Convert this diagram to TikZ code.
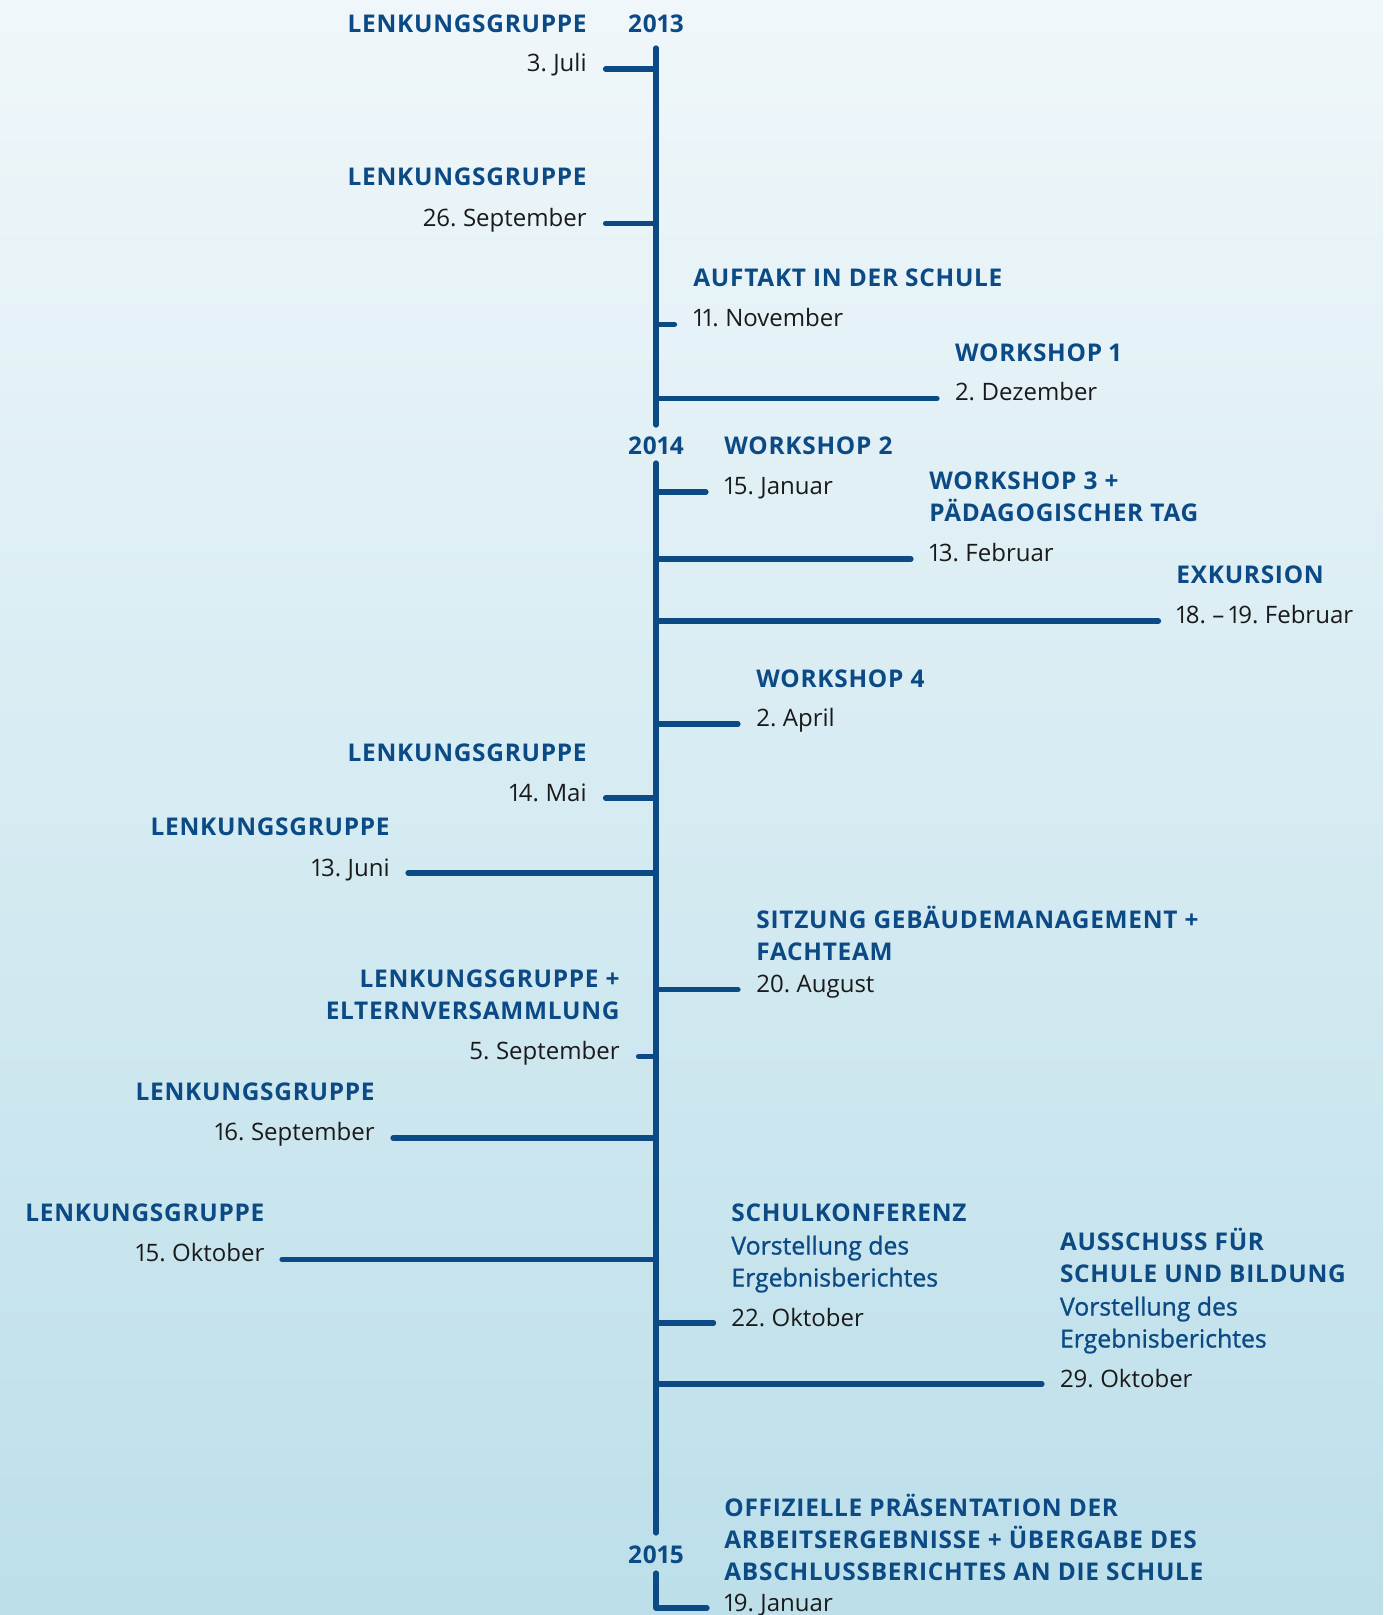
\documentclass[tikz,border=0pt]{standalone}
\usepackage{fontspec}
\setmainfont{Open Sans}[Numbers=Proportional]
\newfontfamily\hdfont{Open Sans}[Numbers=Proportional, LetterSpace=3, BoldFont={Open Sans Bold}]
\newfontfamily\datefont{Open Sans}[Numbers=Proportional, WordSpace=0.7]
\newfontfamily\semifont{Open Sans}[Numbers=Proportional, FakeBold=1.0]
\definecolor{tblue}{HTML}{0B4A85}
\definecolor{ttext}{HTML}{1A1A1A}
\definecolor{bgtop}{HTML}{F0F7FA}
\definecolor{bgbot}{HTML}{BCDFEA}
\begin{document}
\begin{tikzpicture}[x=0.5pt,y=-0.5pt,
  hd/.style={font=\hdfont\bfseries\fontsize{12.2}{16}\selectfont, text=tblue, inner sep=0pt},
  dt/.style={font=\datefont\fontsize{12}{16}\selectfont, text=ttext, inner sep=0pt},
  sb/.style={font=\semifont\fontsize{12.4}{16}\selectfont, text=tblue, inner sep=0pt},
  tl/.style={draw=tblue, line width=2.6pt, line cap=round},
  ae/.style={anchor=base east}, aw/.style={anchor=base west}, ac/.style={anchor=base}]
\shade[top color=bgtop, bottom color=bgbot] (0,0) rectangle (1383,1615);
\useasboundingbox (0,0) rectangle (1383,1615);
% main line
\coordinate (t0) at (656,48);
\coordinate (t1) at (656,425);
\coordinate (u0) at (656,463);
\coordinate (u1) at (656,1533);
\coordinate (v0) at (656,1573);
\coordinate (v1) at (656,1608);
\coordinate (v2) at (707,1608);
\draw[tl] (t0) -- (t1);
\draw[tl] (u0) -- (u1);
\draw[tl, line join=round] (v0) -- (v1) -- (v2);
% years
\node[hd,ac] (y13) at (656,32.2) {2013};
\node[hd,ac] (y14) at (656,454.5) {2014};
\node[hd,ac] (y15) at (656,1563.5) {2015};
% 3. Juli
\node[hd,ae] (h1) at (587,32.2) {LENKUNGSGRUPPE};
\node[dt,ae] (d1) at (587,71.3) {3. Juli};
\coordinate (j1) at (656,69); \coordinate (k1) at (605.5,69);
\draw[tl] (j1) -- (k1);
% 26. September
\node[hd,ae] (h2) at (587,185.5) {LENKUNGSGRUPPE};
\node[dt,ae] (d2) at (587,226.5) {26. September};
\coordinate (j2) at (656,223.5); \coordinate (k2) at (605.5,223.5);
\draw[tl] (j2) -- (k2);
% 11. November
\node[hd,aw] (h3) at (693,286.5) {AUFTAKT IN DER SCHULE};
\node[dt,aw] (d3) at (693,326.5) {11. November};
\coordinate (j3) at (656,324.4); \coordinate (k3) at (674.5,324.4);
\draw[tl] (j3) -- (k3);
% 2. Dezember
\node[hd,aw] (h4) at (954.6,361.5) {WORKSHOP 1};
\node[dt,aw] (d4) at (954.6,400.5) {2. Dezember};
\coordinate (j4) at (656,398.5); \coordinate (k4) at (937,398.5);
\draw[tl] (j4) -- (k4);
% 15. Januar
\node[hd,aw] (h5) at (724,454.5) {WORKSHOP 2};
\node[dt,aw] (d5) at (724,494.5) {15. Januar};
\coordinate (j5) at (656,492); \coordinate (k5) at (706,492);
\draw[tl] (j5) -- (k5);
% 13. Februar
\node[hd,aw] (h6a) at (929,489.5) {WORKSHOP 3 +};
\node[hd,aw] (h6b) at (929,521.5) {PÄDAGOGISCHER TAG};
\node[dt,aw] (d6) at (929,561.5) {13. Februar};
\coordinate (j6) at (656,559); \coordinate (k6) at (911,559);
\draw[tl] (j6) -- (k6);
% Exkursion
\node[hd,aw] (h7) at (1176,583) {EXKURSION};
\node[dt,aw] (d7) at (1176,623.5) {18. – 19. Februar};
\coordinate (j7) at (656,621); \coordinate (k7) at (1158.5,621);
\draw[tl] (j7) -- (k7);
% 2. April
\node[hd,aw] (h8) at (756,687) {WORKSHOP 4};
\node[dt,aw] (d8) at (756,726.5) {2. April};
\coordinate (j8) at (656,724); \coordinate (k8) at (738,724);
\draw[tl] (j8) -- (k8);
% 14. Mai
\node[hd,ae] (h9) at (587,761.5) {LENKUNGSGRUPPE};
\node[dt,ae] (d9) at (587,801.5) {14. Mai};
\coordinate (j9) at (656,798); \coordinate (k9) at (605.5,798);
\draw[tl] (j9) -- (k9);
% 13. Juni
\node[hd,ae] (h10) at (390,835.5) {LENKUNGSGRUPPE};
\node[dt,ae] (d10) at (390,876.5) {13. Juni};
\coordinate (j10) at (656,873); \coordinate (k10) at (408,873);
\draw[tl] (j10) -- (k10);
% 20. August
\node[hd,aw] (h11a) at (756,928) {SITZUNG GEBÄUDEMANAGEMENT +};
\node[hd,aw] (h11b) at (756,960) {FACHTEAM};
\node[dt,aw] (d11) at (756,992) {20. August};
\coordinate (j11) at (656,989.6); \coordinate (k11) at (738,989.6);
\draw[tl] (j11) -- (k11);
% 5. September
\node[hd,ae] (h12a) at (620,987.5) {LENKUNGSGRUPPE +};
\node[hd,ae] (h12b) at (620,1019.5) {ELTERNVERSAMMLUNG};
\node[dt,ae] (d12) at (620,1059.5) {5. September};
\coordinate (j12) at (656,1056.6); \coordinate (k12) at (638.5,1056.6);
\draw[tl] (j12) -- (k12);
% 16. September
\node[hd,ae] (h13) at (375,1100) {LENKUNGSGRUPPE};
\node[dt,ae] (d13) at (375,1140) {16. September};
\coordinate (j13) at (656,1138); \coordinate (k13) at (393,1138);
\draw[tl] (j13) -- (k13);
% 15. Oktober
\node[hd,ae] (h14) at (264.7,1221.5) {LENKUNGSGRUPPE};
\node[dt,ae] (d14) at (264.7,1261.5) {15. Oktober};
\coordinate (j14) at (656,1259.4); \coordinate (k14) at (282,1259.4);
\draw[tl] (j14) -- (k14);
% 22. Oktober
\node[hd,aw] (h15) at (731,1221.5) {SCHULKONFERENZ};
\node[sb,aw] (s15a) at (731,1254.5) {Vorstellung des};
\node[sb,aw] (s15b) at (731,1286.5) {Ergebnisberichtes};
\node[dt,aw] (d15) at (731,1326.5) {22. Oktober};
\coordinate (j15) at (656,1323); \coordinate (k15) at (713.6,1323);
\draw[tl] (j15) -- (k15);
% 29. Oktober
\node[hd,aw] (h16a) at (1059.6,1250.5) {AUSSCHUSS FÜR};
\node[hd,aw] (h16b) at (1059.6,1282.5) {SCHULE UND BILDUNG};
\node[sb,aw] (s16a) at (1059.6,1315.5) {Vorstellung des};
\node[sb,aw] (s16b) at (1059.6,1347.5) {Ergebnisberichtes};
\node[dt,aw] (d16) at (1059.6,1387.5) {29. Oktober};
\coordinate (j16) at (656,1384); \coordinate (k16) at (1042,1384);
\draw[tl] (j16) -- (k16);
% 19. Januar
\node[hd,aw] (h17a) at (724,1516) {OFFIZIELLE PRÄSENTATION DER};
\node[hd,aw] (h17b) at (724,1548) {ARBEITSERGEBNISSE + ÜBERGABE DES};
\node[hd,aw] (h17c) at (724,1580) {ABSCHLUSSBERICHTES AN DIE SCHULE};
\node[dt,aw] (d17) at (724,1611) {19. Januar};
\end{tikzpicture}
\end{document}
